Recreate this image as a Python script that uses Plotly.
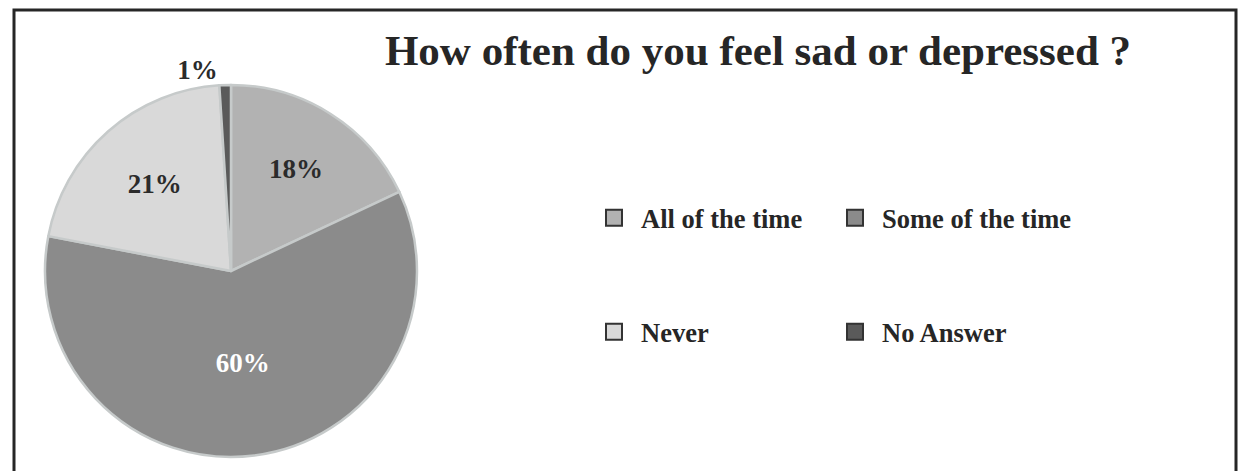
import plotly.graph_objects as go

categories = ["All of the time", "Some of the time", "Never", "No Answer"]
values = [18, 60, 21, 1]
slice_colors = ["#b2b2b2", "#8b8b8b", "#d9d9d9", "#5a5a5a"]
label_colors = ["#2b2b2b", "#ffffff", "#2b2b2b", "#2b2b2b"]
label_positions = ["inside", "inside", "inside", "outside"]
title_text = "How often do you feel sad or depressed ?"
legend_rows = [["All of the time", "Some of the time"], ["Never", "No Answer"]]

W, H = 1247, 471
OFF = 8  # page body margin offset
FONT = "Liberation Serif"


def px(v):
    return (v - OFF) / W


def py(v):
    return 1 - (v - OFF) / H


fig = go.Figure()
fig.add_trace(go.Pie(
    labels=categories, values=values, sort=False, direction="clockwise",
    rotation=0,
    marker=dict(colors=slice_colors, line=dict(color="#c6caca", width=2.5)),
    texttemplate="%{percent:.0%}", textposition=label_positions,
    textfont=dict(family=FONT, size=27, color=label_colors, weight="bold"),
    insidetextorientation="horizontal",
    showlegend=False, hoverinfo="label+percent",
    domain=dict(x=[px(45), px(417)], y=[py(457), py(85)]),
))

color_of = dict(zip(categories, slice_colors))
for ri, row in enumerate(legend_rows):
    lg = "legend" if ri == 0 else "legend2"
    for ci, name in enumerate(row):
        fig.add_trace(go.Scatter(
            x=[None], y=[None], mode="markers", name=name, legend=lg,
            legendwidth=182 if ci == 0 else 260,
            marker=dict(symbol="square", size=16, color=color_of[name],
                        line=dict(color="#333333", width=2)),
        ))

legend_common = dict(
    orientation="h", xanchor="left", yanchor="middle",
    font=dict(family=FONT, size=26.5, color="#262626", weight="bold"),
    itemwidth=44, bgcolor="rgba(0,0,0,0)", borderwidth=0,
)

fig.update_layout(
    width=W, height=H,
    margin=dict(l=0, r=0, t=0, b=0),
    paper_bgcolor="white", plot_bgcolor="white",
    xaxis=dict(visible=False), yaxis=dict(visible=False),
    title=dict(text=title_text, x=px(758), xanchor="center", xref="paper",
               y=py(50), yanchor="middle", yref="paper",
               font=dict(family=FONT, size=43, color="#262626", weight="bold")),
    legend=dict(x=px(587), y=py(218), **legend_common),
    legend2=dict(x=px(587), y=py(332), **legend_common),
    shapes=[dict(type="rect", xref="paper", yref="paper",
                 x0=px(14), x1=px(1236), y0=-0.05, y1=py(10),
                 line=dict(color="#262626", width=3))],
)

fig.write_html("out.html")
